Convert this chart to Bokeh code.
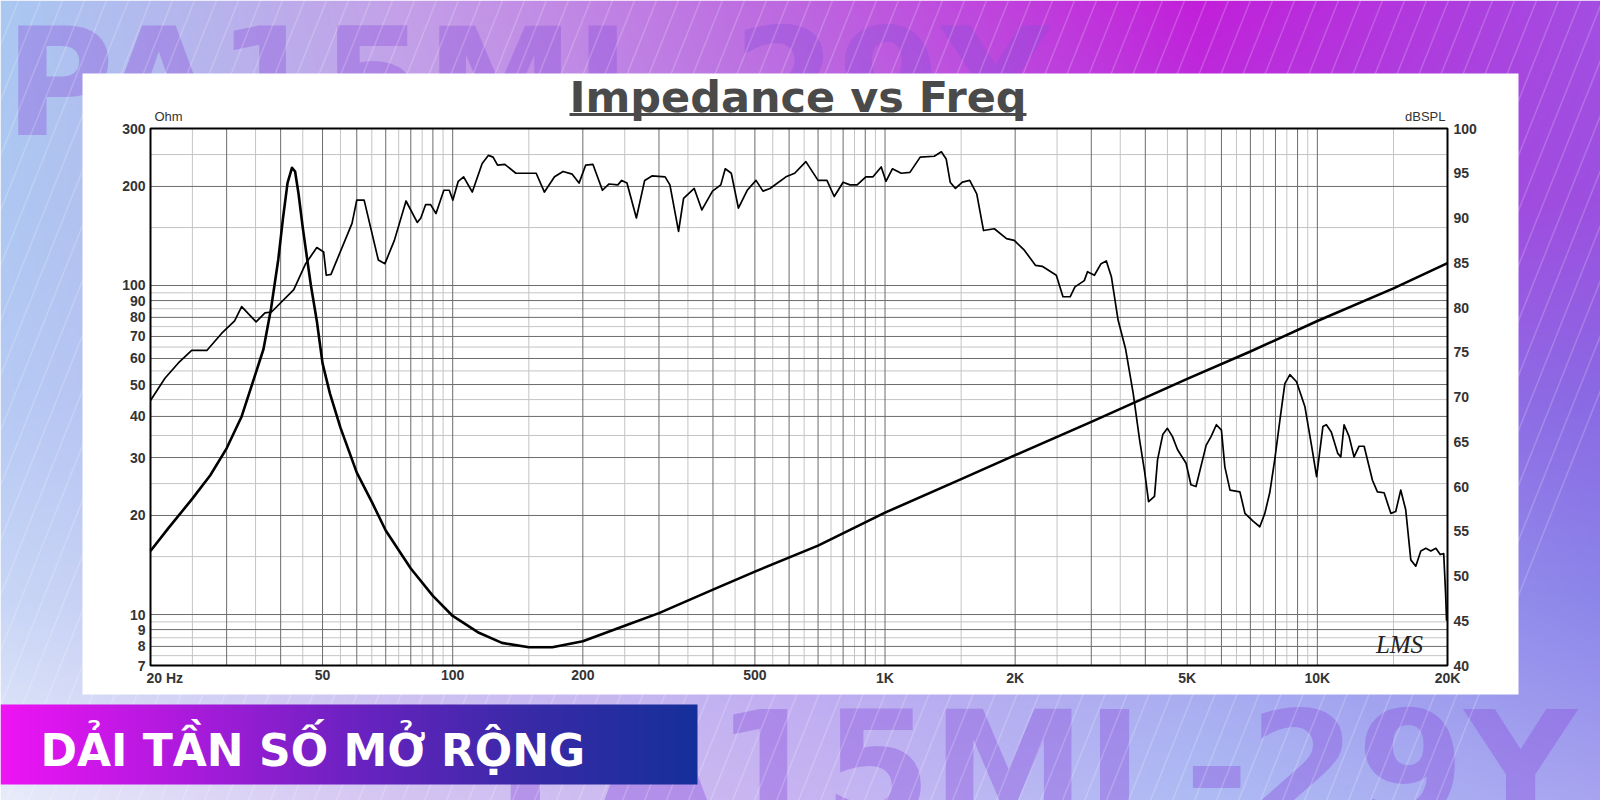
import math
import numpy as np
from bokeh.plotting import figure
from bokeh.models import Range1d, LogScale, LinearScale
from bokeh.core.properties import value
from bokeh.embed import file_html
from bokeh.resources import INLINE

# ---------------- data ----------------
title_text = "Impedance vs Freq"
banner_text = "DẢI TẦN SỐ MỞ RỘNG"
watermark_text = "PA15ML-29Y"

imp_freq = [20, 22, 25, 27.5, 30, 32.5, 35, 36.5, 38, 39.5, 40.5, 41.5, 42.5, 43.2, 44, 45, 46, 47,
            48.5, 50, 52, 55, 60, 65, 70, 80, 90, 100, 115, 130, 150, 170, 200, 250, 300, 400, 500,
            700, 1000, 1500, 2000, 3000, 5000, 7000, 10000, 15000, 20000]
imp_ohm = [15.6, 18.3, 22.5, 26.5, 32, 40, 54, 64, 85, 120, 160, 205, 228, 222, 190, 150, 122, 100,
           78, 58, 47, 37, 27, 22, 18, 13.8, 11.4, 9.9, 8.8, 8.2, 7.95, 7.95, 8.3, 9.25, 10.1, 11.9, 13.5,
           16.2, 20.4, 25.8, 30.5, 38.5, 52, 63, 78, 98, 117]

spl_freq = [20, 21.6, 23.2, 24.9, 27, 29.2, 31.3, 32.5, 35.1, 36.8, 38.1, 42.9, 45.7, 48.5, 50.3, 51,
            52.3, 58.5, 60, 62.4, 67.3, 69.7, 73.3, 78, 82.8, 84.4, 86.6, 88.9, 91.5, 95.4, 98.2, 100.1,
            103, 106, 111, 117, 121, 124, 127, 132, 140, 148, 156, 163, 172, 180, 189, 196, 203, 211,
            222, 230, 241, 246, 253, 266, 278, 289, 310, 318, 333, 342, 362, 377, 399, 417, 427, 441,
            458, 480, 503, 522, 542, 590, 618, 656, 700, 734, 763, 800, 830, 862, 903, 938, 980, 1005,
            1040, 1090, 1142, 1206, 1300, 1350, 1385, 1415, 1455, 1510, 1570, 1630, 1690, 1790, 1910,
            1990, 2100, 2230, 2310, 2490, 2580, 2680, 2750, 2890, 2940, 3050, 3160, 3250, 3340, 3460,
            3600, 3750, 3880, 3990, 4070, 4200, 4270, 4390, 4500, 4620, 4750, 4970, 5100, 5240, 5530,
            5680, 5840, 6000, 6110, 6280, 6620, 6800, 7110, 7360, 7560, 7760, 7970, 8190, 8410, 8640,
            8950, 9360, 9700, 9960, 10300, 10490, 10770, 11150, 11330, 11530, 11840, 12160, 12490,
            12830, 13410, 13770, 14270, 14790, 15180, 15590, 16010, 16450, 16890, 17350, 17820, 18300,
            18800, 19240, 19600, 19800, 19900]
spl_db = [69.6, 72.1, 73.8, 75.2, 75.2, 77.1, 78.5, 80.1, 78.4, 79.4, 79.5, 82, 84.9, 86.7, 86.2, 83.6,
          83.7, 89.4, 92, 92, 85.3, 84.9, 87.5, 91.9, 89.5, 90, 91.5, 91.5, 90.5, 93.1, 93.1, 92,
          94.1, 94.6, 92.9, 96.1, 97, 96.8, 95.9, 96, 95, 95, 95, 92.9, 94.6, 95.2, 94.9, 93.9, 95.9, 96,
          93.1, 93.8, 93.7, 94.2, 93.9, 90, 94.2, 94.7, 94.6, 93.7, 88.5, 92.2, 93.3, 90.9, 93, 93.7, 95.5, 95,
          91.1, 93.1, 94.2, 93, 93.3, 94.6, 95, 96.3, 94.2, 94.2, 92.4, 94, 93.7, 93.7, 94.6, 94.6, 95.7, 94.1,
          95.5, 95, 95.1, 96.8, 96.9, 97.4, 96.6, 94, 93.3, 94, 94.2, 92.7, 88.6, 88.8, 87.7,
          87.5, 86.4, 84.7, 84.6, 83.6, 81.2, 81.2, 82.3, 83, 84, 83.6, 84.9, 85.2, 83.4, 78.6,
          75.4, 70.4, 65.2, 61.5, 58.3, 58.9, 63, 65.8, 66.5, 65.6, 64.1, 62.6, 60.2, 60, 64.6,
          65.6, 66.9, 66.3, 62.2, 59.6, 59.4, 57, 56.1, 55.5, 57, 59.3, 63, 67.4, 71.5, 72.5,
          71.7, 68.9, 64.5, 61.1, 66.7, 66.9, 66.1, 63.7, 63.3, 66.9, 65.6, 63.3, 64.5,
          64.5, 60.7, 59.4, 59.3, 57, 57.2, 59.6, 57.4, 51.8, 51.1, 52.8, 53.1, 52.8,
          53.1, 52.4, 52.5, 48, 45]

x_tick_freqs = [50, 100, 200, 500, 1000, 2000, 5000, 10000, 20000]
x_tick_labels = ["50", "100", "200", "500", "1K", "2K", "5K", "10K", "20K"]
x_first_label = "20  Hz"
ohm_ticks = [300, 200, 100, 90, 80, 70, 60, 50, 40, 30, 20, 10, 9, 8, 7]
db_ticks = [100, 95, 90, 85, 80, 75, 70, 65, 60, 55, 50, 45, 40]

grid_freq_major = [30, 40, 50, 60, 70, 80, 90, 100, 200, 300, 400, 500, 600, 700, 800, 900, 1000,
                   2000, 3000, 4000, 5000, 6000, 7000, 8000, 9000, 10000]
grid_freq_minor = [25, 35, 45, 55, 65, 75, 85, 95, 150, 250, 350, 450, 550, 650, 750, 850, 950,
                   1500, 2500, 3500, 4500, 5500, 6500, 7500, 8500, 9500, 15000]
grid_ohm_major = [8, 9, 10, 20, 30, 40, 50, 60, 70, 80, 90, 100, 200]
grid_ohm_minor = [7.5, 8.5, 9.5, 15, 25, 35, 45, 55, 65, 75, 85, 95, 150, 250]

# ---------------- figure: base coordinates = page pixels ----------------
W, H = 1600, 800
p = figure(width=W, height=H, x_range=Range1d(0, W), y_range=Range1d(H, 0),
           output_backend="svg", toolbar_location=None, tools="",
           x_axis_location=None, y_axis_location=None, min_border=0)
p.grid.grid_line_color = None
p.outline_line_color = None
p.background_fill_color = "white"
p.border_fill_color = "white"

# chart frame geometry (page pixels) -> extra log/linear ranges
PX0, PX1, PY0, PY1 = 150, 1447, 128, 665
L10 = math.log10
dec_x = (PX1 - PX0) / L10(20000 / 20)
dec_y = (PY1 - PY0) / L10(300 / 7)
per_db = (PY1 - PY0) / (100 - 40)
p.extra_x_ranges = {"freq": Range1d(10 ** (L10(20) - PX0 / dec_x), 10 ** (L10(20000) + (W - PX1) / dec_x))}
p.extra_x_scales = {"freq": LogScale()}
p.extra_y_ranges = {"ohm": Range1d(10 ** (L10(7) - (H - PY1) / dec_y), 10 ** (L10(300) + PY0 / dec_y)),
                    "db": Range1d(40 - (H - PY1) / per_db, 100 + PY0 / per_db)}
p.extra_y_scales = {"ohm": LogScale(), "db": LinearScale()}
OHM = dict(x_range_name="freq", y_range_name="ohm")
DB = dict(x_range_name="freq", y_range_name="db")


def hex2rgb(h):
    return [int(h[i:i + 2], 16) for i in (1, 3, 5)]


# background gradient (decoration)
gx = [0, 400, 800, 1200, 1600]
gy = [0, 200, 400, 600, 800]
grid_cols = [
    ["#a9c8f2", "#c4a0e8", "#bd66e0", "#c21fd9", "#a44ee2"],
    ["#aec8f2", "#c0a6ea", "#b874e2", "#b63ade", "#9c50e0"],
    ["#b6caf4", "#bdb2ee", "#ae8ae8", "#a070e6", "#8a6ae4"],
    ["#c8d6f6", "#c8c0f2", "#b8a8f0", "#a4a0ee", "#8c86ea"],
    ["#e8ecfa", "#d4c4f2", "#c8b4f2", "#aebcf4", "#a8a4f0"],
]
HH, WW = 400, 800
px = np.linspace(0, 1600, WW)
py = np.linspace(0, 800, HH)
gc = np.array([[hex2rgb(c) for c in r] for r in grid_cols], float)
tmp = np.zeros((len(gy), WW, 3))
for i in range(len(gy)):
    for ch in range(3):
        tmp[i, :, ch] = np.interp(px, gx, gc[i, :, ch])
rgb = np.zeros((HH, WW, 3))
for j in range(WW):
    for ch in range(3):
        rgb[:, j, ch] = np.interp(py, gy, tmp[:, j, ch])
bg = np.empty((HH, WW), dtype=np.uint32)
v = bg.view(dtype=np.uint8).reshape((HH, WW, 4))
v[..., 0] = rgb[..., 0]
v[..., 1] = rgb[..., 1]
v[..., 2] = rgb[..., 2]
v[..., 3] = 255
p.image_rgba(image=[bg], x=0, y=0, dw=1600, dh=800)

# watermark texts
p.text(x=[4], y=[82], text=[watermark_text], text_font=value("DejaVu Sans"), text_font_style="bold",
       text_font_size="150px", text_color="#8a4ddc", text_alpha=0.36, text_baseline="middle")
p.text(x=[496], y=[768], text=[watermark_text], text_font=value("DejaVu Sans"), text_font_style="bold",
       text_font_size="155px", text_color="#8a4ddc", text_alpha=0.38, text_baseline="middle")

# diagonal stripes
sx0, sy0, sx1, sy1 = [], [], [], []
for c in range(-400, 1760, 22):
    sx0.append(c)
    sy0.append(0)
    sx1.append(c - 320)
    sy1.append(800)
p.segment(x0=sx0, y0=sy0, x1=sx1, y1=sy1, line_color="white", line_alpha=0.2, line_width=1.5)

# white card
p.quad(left=[82], right=[1518], top=[73], bottom=[694], fill_color="white", line_color=None)

# banner
bw = 350
stops_x = [0, 0.25, 0.5, 0.75, 1.0]
stops_c = np.array([hex2rgb(c) for c in ["#ef14f5", "#b01ade", "#6d22c2", "#3a2aa8", "#15309a"]], float)
t = np.linspace(0, 1, bw)
bimg = np.empty((1, bw), dtype=np.uint32)
bv = bimg.view(dtype=np.uint8).reshape((1, bw, 4))
for ch in range(3):
    bv[0, :, ch] = np.interp(t, stops_x, stops_c[:, ch])
bv[..., 3] = 255
p.image_rgba(image=[bimg], x=0, y=704, dw=697, dh=80)
p.text(x=[40], y=[750], text=[banner_text], text_font=value("DejaVu Sans"), text_font_style="bold",
       text_font_size="44px", text_color="white", text_baseline="middle")

# title
p.text(x=[797.5], y=[96], text=[title_text], text_font=value("DejaVu Sans"), text_font_style="bold",
       text_font_size="43px", text_color="#4a4a4a", text_align="center", text_baseline="middle")
p.segment(x0=[569], y0=[114], x1=[1026], y1=[114], line_color="#4a4a4a", line_width=3)

# ---------------- chart ----------------
p.segment(x0=grid_freq_minor, y0=[7] * len(grid_freq_minor), x1=grid_freq_minor,
          y1=[300] * len(grid_freq_minor), line_color="#c4c4c4", line_width=1, **OHM)
p.segment(x0=[20] * len(grid_ohm_minor), y0=grid_ohm_minor, x1=[20000] * len(grid_ohm_minor),
          y1=grid_ohm_minor, line_color="#c4c4c4", line_width=1, **OHM)
p.segment(x0=grid_freq_major, y0=[7] * len(grid_freq_major), x1=grid_freq_major,
          y1=[300] * len(grid_freq_major), line_color="#6c6c6c", line_width=1, **OHM)
p.segment(x0=[20] * len(grid_ohm_major), y0=grid_ohm_major, x1=[20000] * len(grid_ohm_major),
          y1=grid_ohm_major, line_color="#6c6c6c", line_width=1, **OHM)
p.quad(left=[20], right=[20000], bottom=[7], top=[300], fill_color=None, line_color="black",
       line_width=2, **OHM)

p.line(x=spl_freq, y=spl_db, line_color="black", line_width=1.7, line_join="round", **DB)
p.line(x=imp_freq, y=imp_ohm, line_color="black", line_width=2.6, line_join="round", **OHM)

lab = dict(text_font=value("Liberation Sans"), text_font_style="bold", text_font_size="14px",
           text_color="#333333")
p.text(x=[20] * len(ohm_ticks), y=ohm_ticks, text=[str(v_) for v_ in ohm_ticks], x_offset=-5,
       text_align="right", text_baseline="middle", **lab, **OHM)
p.text(x=[20000] * len(db_ticks), y=db_ticks, text=[str(v_) for v_ in db_ticks], x_offset=6,
       text_align="left", text_baseline="middle", **lab, **DB)
p.text(x=x_tick_freqs, y=[7] * len(x_tick_freqs), text=x_tick_labels, y_offset=4,
       text_align="center", text_baseline="top", **lab, **OHM)
p.text(x=[20], y=[7], text=[x_first_label], y_offset=4, x_offset=-4,
       text_align="left", text_baseline="top", **lab, **OHM)

unit = dict(text_font=value("Liberation Sans"), text_font_size="13px", text_color="#333333",
            text_baseline="middle")
p.text(x=[20], y=[300], text=["Ohm"], x_offset=4, y_offset=-12, text_align="left", **unit, **OHM)
p.text(x=[20000], y=[300], text=["dBSPL"], x_offset=-2, y_offset=-12, text_align="right", **unit, **OHM)

p.text(x=[1399], y=[644], text=["LMS"], text_font=value("Liberation Serif"), text_font_style="italic",
       text_font_size="25px", text_color="#222222", text_align="center", text_baseline="middle")

open("out.html", "w").write(file_html(p, INLINE))
